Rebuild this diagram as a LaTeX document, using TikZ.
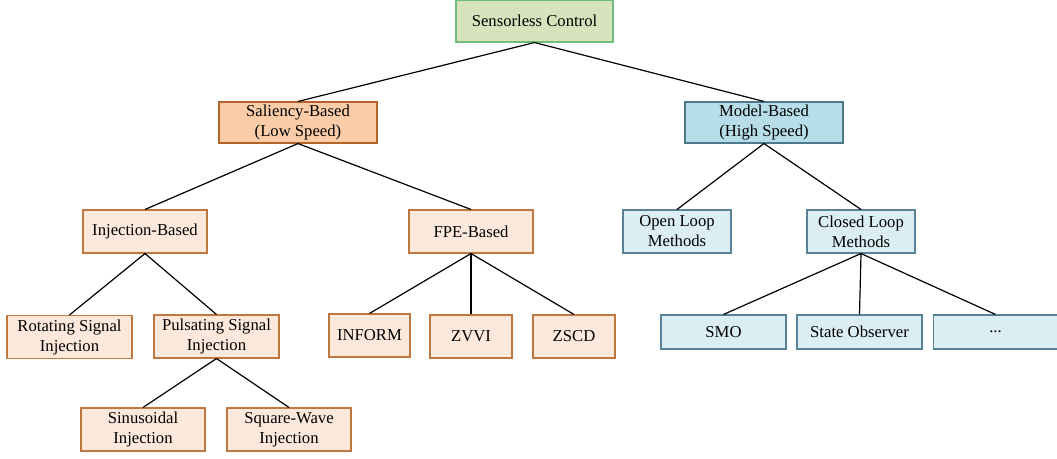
\documentclass[tikz,border=0pt]{standalone}
\usepackage{fontspec}
\setmainfont{Liberation Serif}
\usepackage{xcolor}
\definecolor{rootgreen}{RGB}{214,227,188}
\definecolor{rootedge}{RGB}{112,190,120}
\definecolor{salfill}{RGB}{250,205,168}
\definecolor{saledge}{RGB}{180,100,40}
\definecolor{palefill}{RGB}{252,233,220}
\definecolor{paleedge}{RGB}{192,120,65}
\definecolor{modfill}{RGB}{183,222,232}
\definecolor{modedge}{RGB}{75,120,140}
\definecolor{bluefill}{RGB}{219,238,243}
\definecolor{blueedge}{RGB}{90,130,150}

\begin{document}
\begin{tikzpicture}[x=0.75pt, y=-0.75pt,
    box/.style={draw, line width=0.8pt, align=center, inner sep=0pt,
        font=\fontsize{12.5}{15}\selectfont},
    rootbox/.style={box, fill=rootgreen, draw=rootedge, minimum width=157*0.75pt, minimum height=42*0.75pt},
    salbox/.style={box, fill=salfill, draw=saledge, minimum width=158*0.75pt, minimum height=41*0.75pt},
    modbox/.style={box, fill=modfill, draw=modedge, minimum width=158*0.75pt, minimum height=41*0.75pt},
    orbox/.style={box, fill=palefill, draw=paleedge, minimum height=43*0.75pt},
    bluebox/.style={box, fill=bluefill, draw=blueedge},
    link/.style={draw=black, line width=0.9pt}]
    \useasboundingbox (0,0) rectangle (1057,458);
    % top level
    \node[rootbox] (root) at (534.5,21) {Sensorless Control};
    \node[salbox] (sal) at (298,122.5) {Saliency-Based\\(Low Speed)};
    \node[modbox] (mod) at (764,122.5) {Model-Based\\(High Speed)};
    % second level
    \node[orbox, minimum width=124*0.75pt] (inj) at (145,231.5) {Injection-Based};
    \node[orbox, minimum width=124*0.75pt] (fpe) at (471,231.5) {FPE-Based};
    \node[bluebox, minimum width=108*0.75pt, minimum height=43*0.75pt] (open) at (677,231.5) {Open Loop\\Methods};
    \node[bluebox, minimum width=108*0.75pt, minimum height=43*0.75pt] (closed) at (861,231.5) {Closed Loop\\Methods};
    % third level
    \node[orbox, minimum width=125*0.75pt] (rot) at (69.5,337) {Rotating Signal\\Injection};
    \node[orbox, minimum width=125*0.75pt] (puls) at (216.5,336.5) {Pulsating Signal\\Injection};
    \node[orbox, minimum width=81*0.75pt] (inform) at (369.5,335.5) {INFORM};
    \node[orbox, minimum width=82*0.75pt] (zvvi) at (471,336.5) {ZVVI};
    \node[orbox, minimum width=82*0.75pt] (zscd) at (574,336.5) {ZSCD};
    \node[bluebox, minimum width=125*0.75pt, minimum height=34*0.75pt] (smo) at (723.5,332) {SMO};
    \node[bluebox, minimum width=125*0.75pt, minimum height=34*0.75pt] (obs) at (859.5,332) {State Observer};
    \node[bluebox, minimum width=124*0.75pt, minimum height=34*0.75pt] (more) at (995.5,332) {...};
    % fourth level
    \node[orbox, minimum width=124*0.75pt] (sin) at (143,429.5) {Sinusoidal\\Injection};
    \node[orbox, minimum width=124*0.75pt] (sq) at (289,429.5) {Square-Wave\\Injection};
    % links
    \foreach \a/\b in {root/sal, root/mod, sal/inj, sal/fpe, mod/open, mod/closed,
        inj/rot, inj/puls, fpe/inform, fpe/zvvi, fpe/zscd,
        closed/smo, closed/obs, closed/more, puls/sin, puls/sq}
        \draw[link] (\a.south) -- (\b.north);
\end{tikzpicture}
\end{document}
